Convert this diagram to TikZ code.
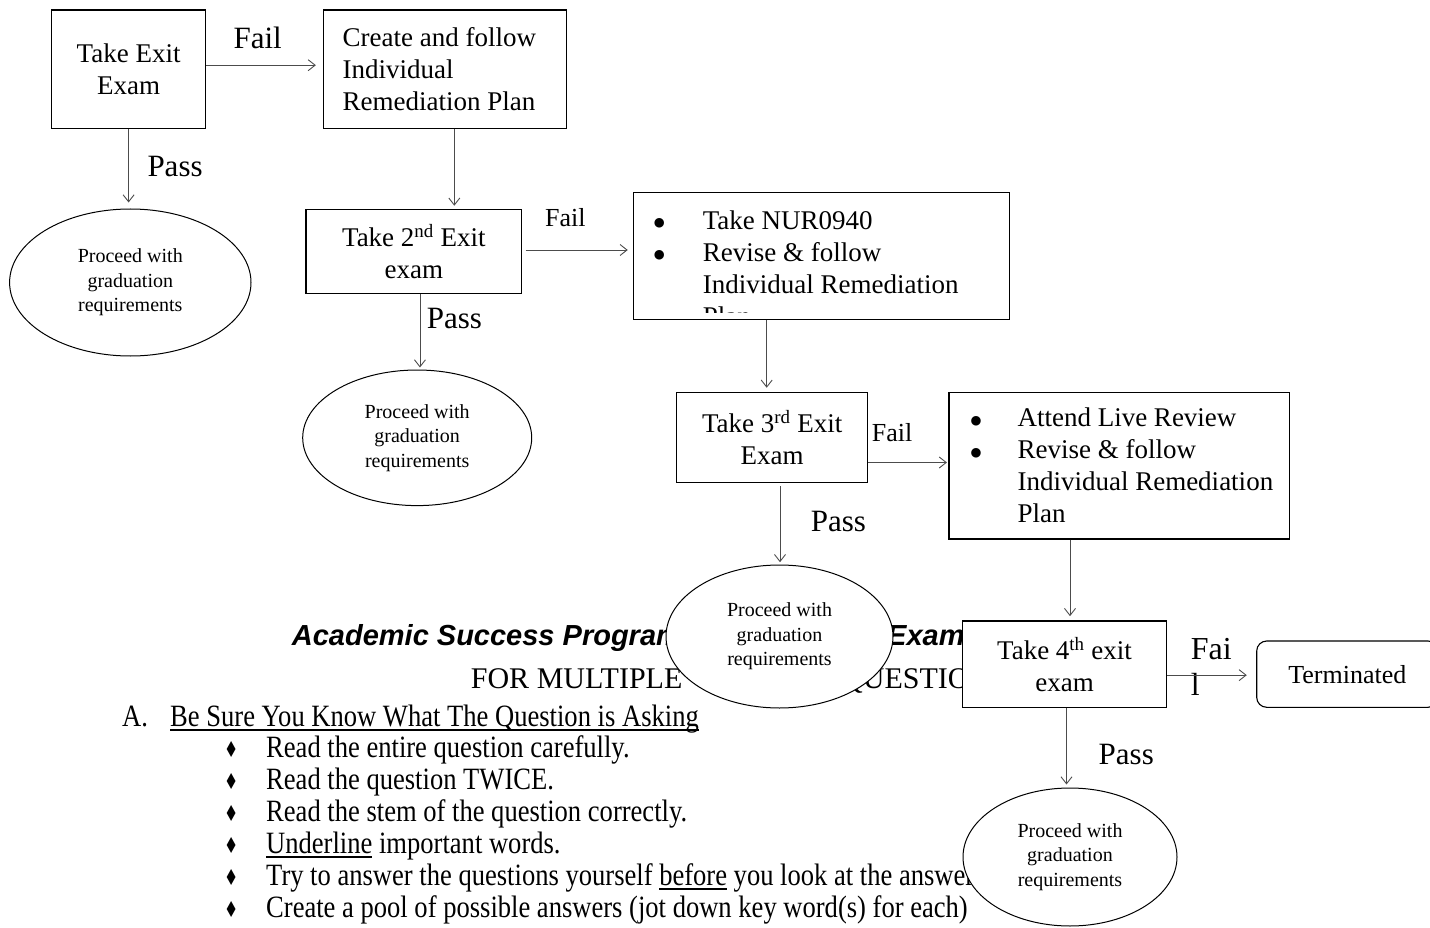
\documentclass[tikz,border=0pt]{standalone}
\usepackage{fontspec}
\setmainfont{Liberation Serif}
\newfontfamily\narrowfont{Liberation Serif}[FakeStretch=0.857]
\newfontfamily\titlesans{Liberation Sans}
\newfontfamily\symfont{DejaVu Sans}
\newfontfamily\symnarrow{DejaVu Sans}[FakeStretch=0.72]
\usetikzlibrary{arrows.meta,shapes.geometric}
\newcommand\fbx{\fontsize{27}{32}\selectfont}
\newcommand\fel{\fontsize{20}{24.4}\selectfont}
\newcommand\fbig{\fontsize{31}{36}\selectfont}
\newcommand\fmid{\fontsize{26}{30}\selectfont}
\newcommand\flist{\narrowfont\fontsize{31}{32}\selectfont}
\newcommand\dia{{\symnarrow\fontsize{22}{20}\selectfont ♦}}
\newcommand\bul{\raisebox{2.5pt}{\symfont\fontsize{12.5}{13}\selectfont ●}}
\newcommand\myul[1]{\setbox0\hbox{#1}\rlap{\rule[-4.5pt]{\wd0}{1.2pt}}\box0{}}
\newcommand\itm{\hspace*{90pt}\makebox[38pt]{\dia}\hspace*{16pt}}
\begin{document}
\begin{tikzpicture}[x=1pt,y=-1pt,
  bx/.style={draw=black, line width=1.1pt, rectangle, inner sep=0pt, fill=white, font=\fbx, align=center},
  el/.style={draw=black, line width=1pt, ellipse, inner sep=0pt, fill=white, font=\fel, align=center},
  arr/.style={draw=black!70, line width=0.9pt, -{Straight Barb[length=7pt,width=11pt]}},
  lbl/.style={inner sep=0pt, anchor=base west},
  lst/.style={inner sep=0pt, anchor=base west, font=\flist},
]
\useasboundingbox (0,0) rectangle (1430,928);

% background page text
\node[lbl, font={\titlesans\bfseries\itshape\fontsize{29}{34}\selectfont}] (tA) at (291.7,645) {Academic Success Program};
\node[lbl, font={\titlesans\bfseries\itshape\fontsize{29}{34}\selectfont}] (tB) at (887,645) {Exam};
\node[lbl, font={\fontsize{30}{34}\selectfont}] (tC) at (470.7,688) {FOR MULTIPLE};
\node[lbl, font={\fontsize{30}{34}\selectfont}] (tD) at (841,688) {QUESTIONS};
\node[lst] (l0) at (122,726) {\makebox[48pt][l]{A.}\myul{Be Sure You Know What The Question is Asking}};
\node[lst] (l1) at (122,757) {\itm Read the entire question carefully.};
\node[lst] (l2) at (122,789) {\itm Read the question TWICE.};
\node[lst] (l3) at (122,821) {\itm Read the stem of the question correctly.};
\node[lst] (l4) at (122,853) {\itm \myul{Underline} important words.};
\node[lst] (l5) at (122,885) {\itm Try to answer the questions yourself \myul{before} you look at the answers.};
\node[lst] (l6) at (122,917) {\itm Create a pool of possible answers (jot down key word(s) for each)};

% flowchart shapes
\node[bx, minimum width=153.8pt, minimum height=118.3pt] (b1) at (128.6,69.2) {Take Exit\\Exam};
\node[bx, minimum width=243pt, minimum height=118.3pt] (b2) at (444.9,69.2) {};
\node[lbl, font=\fbx] (b2t) at (342.5,46.7) {\begin{tabular}[t]{@{}l@{}}Create and follow\\Individual\\Remediation Plan\end{tabular}};
\node[el, minimum width=241.4pt, minimum height=147pt] (e1) at (130.3,282.5) {Proceed with\\graduation\\requirements};

\node[bx, minimum width=215.7pt, minimum height=84pt] (b3) at (413.85,251.3) {Take 2\textsuperscript{nd} Exit\\exam};
\node[bx, minimum width=376pt, minimum height=126.6pt] (b4) at (821.3,256) {};
\begin{scope}
\clip (b4.north west) rectangle ([yshift=7pt]b4.south east);
\node[lbl, font=\fbx] (b4t) at (653.6,229.3) {\begin{tabular}[t]{@{}l@{}}\makebox[49pt][l]{\bul}Take NUR0940\\ \makebox[49pt][l]{\bul}Revise \& follow\\ \hspace*{49pt}Individual Remediation\\ \hspace*{49pt}Plan\end{tabular}};
\end{scope}
\node[el, minimum width=229pt, minimum height=135.6pt] (e2) at (417.2,437.8) {Proceed with\\graduation\\requirements};

\node[bx, minimum width=191pt, minimum height=90.4pt] (b5) at (772.2,437.5) {Take 3\textsuperscript{rd} Exit\\Exam};
\node[bx, minimum width=340.3pt, minimum height=146.7pt] (b6) at (1119.15,465.65) {};
\node[lbl, font=\fbx] (b6t) at (970.3,426.7) {\begin{tabular}[t]{@{}l@{}}\makebox[47pt][l]{\bul}Attend Live Review\\ \makebox[47pt][l]{\bul}Revise \& follow\\ \hspace*{47pt}Individual Remediation\\ \hspace*{47pt}Plan\end{tabular}};
\node[el, minimum width=227pt, minimum height=143pt] (e3) at (779.5,636.5) {Proceed with\\graduation\\requirements};

\node[bx, minimum width=204.4pt, minimum height=86.3pt] (b7) at (1064.5,664.15) {Take 4\textsuperscript{th} exit\\exam};
\node[bx, rounded corners=10pt, minimum width=181.3pt, minimum height=66.3pt, font=\fmid] (term) at (1347.35,674.15) {Terminated};
\node[el, minimum width=214pt, minimum height=138pt] (e4) at (1070,857) {Proceed with\\graduation\\requirements};

% labels
\node[lbl, font=\fbig] (f1) at (233.4,48.3) {Fail};
\node[lbl, font=\fbig] (p1) at (147.3,176.7) {Pass};
\node[lbl, font=\fmid] (f2) at (545,226.7) {Fail};
\node[lbl, font=\fbig] (p2) at (426.7,328.3) {Pass};
\node[lbl, font=\fmid] (f3) at (871.7,441.7) {Fail};
\node[lbl, font=\fbig] (p3) at (810.7,531.7) {Pass};
\node[lbl, font={\fontsize{32}{35.7}\selectfont}] (f4) at (1190.7,659.3) {\begin{tabular}[t]{@{}l@{}}Fai\\l\end{tabular}};
\node[lbl, font=\fbig] (p4) at (1098.5,764) {Pass};

% connectors
\draw[arr, shorten >=7pt] ([yshift=4pt]b1.east) -- ([yshift=4pt]b1.east -| b2.west);
\draw[arr, shorten >=6pt] (b1.south) -- (b1.south |- e1.north);
\draw[arr, shorten >=3pt] ([xshift=9.4pt]b2.south) -- ([xshift=9.4pt]b2.south |- b3.north);
\draw[arr, shorten <=3.3pt, shorten >=5pt] ([yshift=1.3pt]b3.east) -- ([yshift=1.3pt]b3.east -| b4.west);
\draw[arr, shorten >=2pt] ([xshift=6.1pt]b3.south) -- ([xshift=6.1pt]b3.south |- e2.north);
\draw[arr, shorten >=4pt] ([xshift=-5.5pt]b5.north |- b4.south) -- ([xshift=-5.5pt]b5.north);
\draw[arr, shorten <=3pt, shorten >=2.3pt] ([xshift=7.8pt]b5.south) -- ([xshift=7.8pt]b5.south |- e3.north);
\draw[arr, shorten >=1.5pt] ([yshift=-25pt]b5.east) -- ([yshift=-25pt]b5.east -| b6.west);
\draw[arr, shorten >=4.3pt] ([xshift=5.5pt]b7.north |- b6.south) -- ([xshift=5.5pt]b7.north);
\draw[arr, shorten >=9.4pt] ([yshift=-11pt]b7.east) -- ([yshift=-11pt]b7.east -| term.west);
\draw[arr, shorten >=3pt] ([xshift=2pt]b7.south) -- ([xshift=2pt]b7.south |- e4.north);
\end{tikzpicture}
\end{document}
